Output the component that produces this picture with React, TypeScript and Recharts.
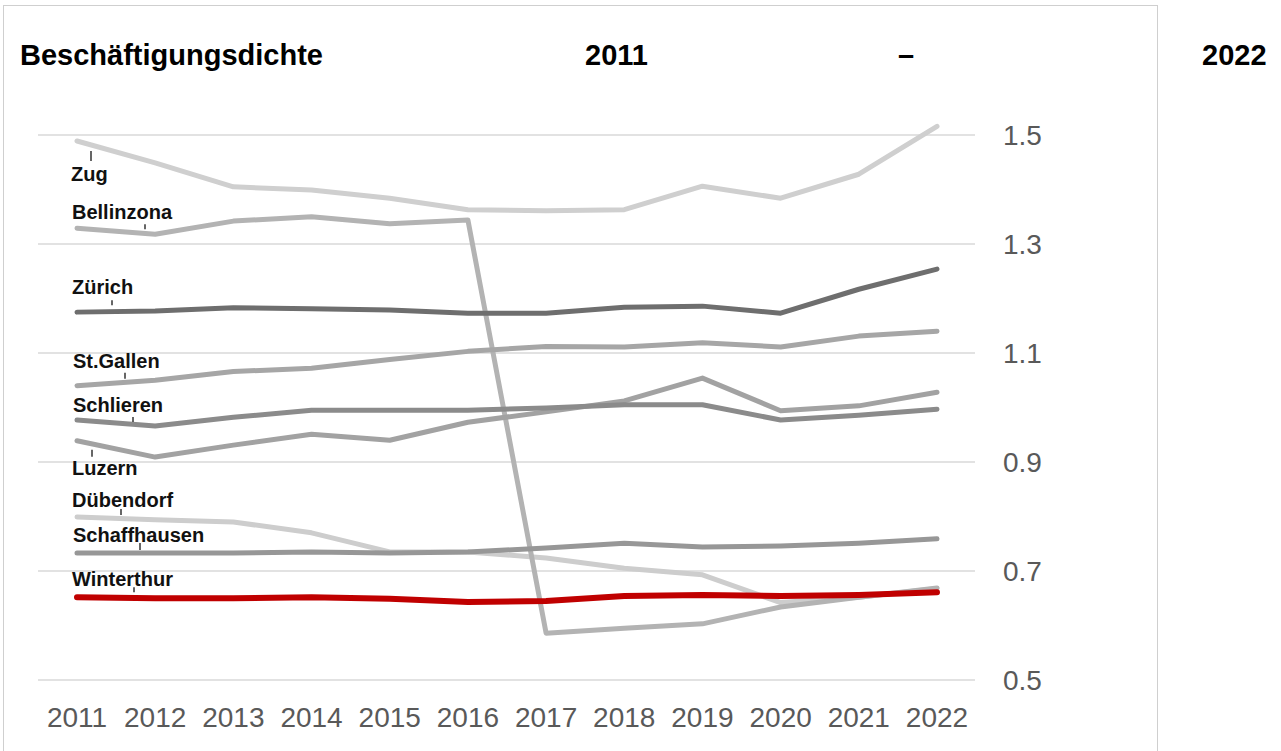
import React from 'react';
import {
  LineChart,
  Line,
  XAxis,
  YAxis,
  ReferenceLine,
  LabelList,
} from 'recharts';

const years = ['2011', '2012', '2013', '2014', '2015', '2016', '2017', '2018', '2019', '2020', '2021', '2022'];
const yTicks = [0.5, 0.7, 0.9, 1.1, 1.3, 1.5];

const zug = [1.489, 1.449, 1.405, 1.399, 1.384, 1.363, 1.361, 1.363, 1.406, 1.384, 1.428, 1.516];
const duebendorf = [0.799, 0.794, 0.79, 0.77, 0.735, 0.735, 0.724, 0.705, 0.693, 0.642, 0.652, 0.668];
const bellinzona = [1.329, 1.318, 1.342, 1.35, 1.337, 1.344, 0.586, 0.595, 0.603, 0.634, 0.652, 0.669];
const stGallen = [1.04, 1.05, 1.066, 1.072, 1.088, 1.103, 1.112, 1.111, 1.119, 1.111, 1.131, 1.14];
const luzern = [0.939, 0.909, 0.931, 0.951, 0.94, 0.973, 0.992, 1.012, 1.054, 0.994, 1.003, 1.028];
const schaffhausen = [0.733, 0.733, 0.733, 0.735, 0.733, 0.735, 0.742, 0.751, 0.744, 0.746, 0.751, 0.759];
const schlieren = [0.977, 0.966, 0.982, 0.995, 0.995, 0.995, 0.999, 1.005, 1.005, 0.977, 0.986, 0.997];
const zuerich = [1.175, 1.177, 1.183, 1.181, 1.179, 1.173, 1.173, 1.184, 1.186, 1.173, 1.217, 1.254];
const winterthur = [0.652, 0.65, 0.65, 0.652, 0.649, 0.643, 0.645, 0.654, 0.656, 0.654, 0.656, 0.661];

// drawing order: grey context first, Winterthur on top
const series = [
  { key: 'Zug', values: zug, color: '#cfcfcf', width: 5, lx: -6, ly: 40, tx: 14, t1: 10, t2: 20 },
  { key: 'Dübendorf', values: duebendorf, color: '#cdcdcd', width: 5, lx: -5, ly: -10, tx: 44, t1: -8, t2: -2 },
  { key: 'Bellinzona', values: bellinzona, color: '#b3b3b3', width: 5, lx: -5, ly: -9, tx: 68, t1: -4, t2: 1 },
  { key: 'St.Gallen', values: stGallen, color: '#a6a6a6', width: 5, lx: -4, ly: -18, tx: 48, t1: -13, t2: -7 },
  { key: 'Luzern', values: luzern, color: '#a2a2a2', width: 5, lx: -5, ly: 34, tx: 15, t1: 9, t2: 16 },
  { key: 'Schaffhausen', values: schaffhausen, color: '#979797', width: 5, lx: -4, ly: -11, tx: 63, t1: -10, t2: -3 },
  { key: 'Schlieren', values: schlieren, color: '#8b8b8b', width: 5, lx: -4, ly: -8, tx: 56, t1: -3, t2: 2 },
  { key: 'Zürich', values: zuerich, color: '#6e6e6e', width: 5, lx: -5, ly: -18, tx: 35, t1: -12, t2: -7 },
  { key: 'Winterthur', values: winterthur, color: '#c00000', width: 6, lx: -5, ly: -11, tx: 57, t1: -10, t2: -5 },
];

const data = years.map((year, i) => {
  const row: Record<string, string | number> = { year };
  series.forEach(s => {
    row[s.key] = s.values[i];
  });
  return row;
});

const FONT = '"Liberation Sans", Arial, sans-serif';

const XTick = (props: any) => {
  const { x, y, payload } = props;
  return (
    <text x={x} y={y + 47} textAnchor="middle" fontFamily={FONT} fontSize={28} fill="#595959">
      {payload.value}
    </text>
  );
};

const YTick = (props: any) => {
  const { x, y, payload } = props;
  return (
    <text x={x + 28} y={y + 10} textAnchor="start" fontFamily={FONT} fontSize={28} fill="#595959">
      {payload.value.toFixed(1)}
    </text>
  );
};

const cityLabel = (s: typeof series[number]) => (props: any) => {
  const { x, y, index } = props;
  if (index !== 0) return null;
  return (
    <g>
      <line x1={x + s.tx} x2={x + s.tx} y1={y + s.t1} y2={y + s.t2} stroke="#333" strokeWidth={1.5} />
      <text x={x + s.lx} y={y + s.ly} fontFamily={FONT} fontWeight="bold" fontSize={20} fill="#111">
        {s.key}
      </text>
    </g>
  );
};

const App: React.FC = () => {
  return (
    <div style={{ position: 'absolute', left: 0, top: 0, width: 1281, height: 751, background: '#fff', overflow: 'hidden' }}>
      <div
        style={{
          position: 'absolute',
          left: 3,
          top: 5,
          width: 1153,
          height: 760,
          borderTop: '1px solid #cfcfcf',
          borderLeft: '1px solid #cfcfcf',
          borderRight: '1px solid #cfcfcf',
        }}
      />
      <svg width={1281} height={100} style={{ position: 'absolute', left: 0, top: 0 }}>
        <g fontFamily={FONT} fontWeight="bold" fontSize={29} fill="#000">
          <text x={20} y={65}>Beschäftigungsdichte</text>
          <text x={585} y={65}>2011</text>
          <text x={898} y={65}>–</text>
          <text x={1202} y={65}>2022</text>
        </g>
      </svg>
      <div style={{ position: 'absolute', left: 0, top: 0 }}>
        <LineChart
          width={1281}
          height={751}
          data={data}
          margin={{ top: 107.75, left: 38, right: 206, bottom: 0 }}
        >
          <XAxis
            dataKey="year"
            height={71}
            padding={{ left: 39, right: 38 }}
            axisLine={false}
            tickLine={false}
            tickSize={0}
            tickMargin={0}
            interval={0}
            tick={<XTick />}
          />
          <YAxis
            orientation="right"
            width={100}
            type="number"
            domain={[0.5, 1.55]}
            ticks={yTicks}
            axisLine={false}
            tickLine={false}
            tickSize={0}
            tickMargin={0}
            tick={<YTick />}
          />
          {/* horizontal guides only at the labelled values */}
          {yTicks.map(v => (
            <ReferenceLine key={v} y={v} stroke="#d9d9d9" strokeWidth={1.5} />
          ))}
          {series.map(s => (
            <Line
              key={s.key}
              type="linear"
              dataKey={s.key}
              stroke={s.color}
              strokeWidth={s.width}
              strokeLinecap="round"
              strokeLinejoin="round"
              dot={false}
              activeDot={false}
              isAnimationActive={false}
            >
              <LabelList dataKey={s.key} content={cityLabel(s)} />
            </Line>
          ))}
        </LineChart>
      </div>
    </div>
  );
};

export default App;
